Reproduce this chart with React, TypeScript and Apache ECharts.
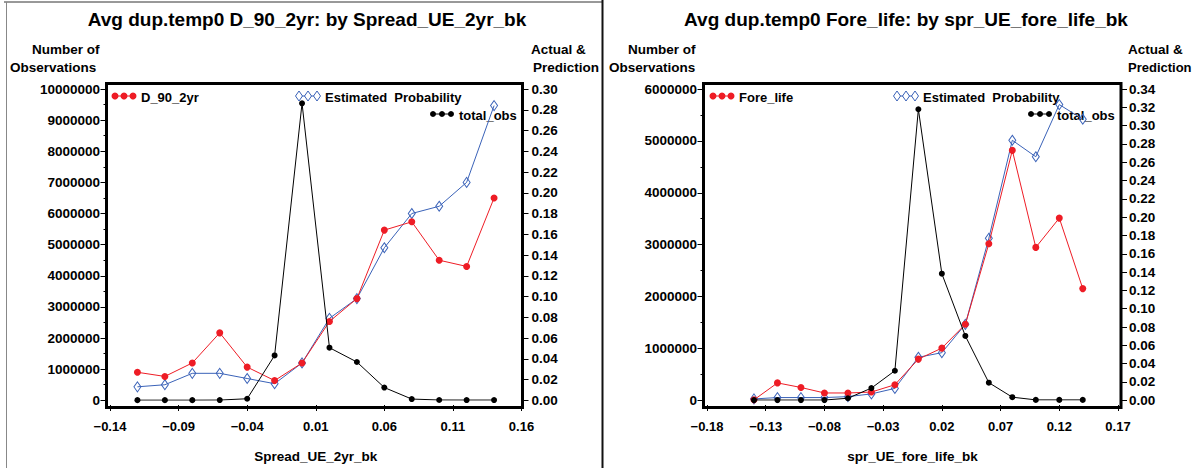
import React, { useEffect, useRef } from "react";
import * as echarts from "echarts";

const FONT = "'Liberation Sans', Arial, Helvetica, sans-serif";
const RED = "#ee1c25";
const BLUE = "#3a62b8";
const BLACK = "#000000";

// Left panel: D_90_2yr by Spread_UE_2yr_bk
const spreadBins = [-0.12, -0.1, -0.08, -0.06, -0.04, -0.02, 0.0, 0.02, 0.04, 0.06, 0.08, 0.1, 0.12, 0.14];
const d90Actual = [0.027, 0.023, 0.036, 0.065, 0.032, 0.019, 0.036, 0.076, 0.098, 0.164, 0.172, 0.135, 0.129, 0.195];
const d90Estimated = [0.013, 0.015, 0.026, 0.026, 0.021, 0.016, 0.036, 0.079, 0.098, 0.147, 0.18, 0.187, 0.21, 0.284];
const d90Obs = [5000, 5000, 5000, 8000, 50000, 1440000, 9540000, 1690000, 1230000, 410000, 40000, 10000, 8000, 8000];
const spreadTicks = [-0.14, -0.09, -0.04, 0.01, 0.06, 0.11, 0.16];

// Right panel: Fore_life by spr_UE_fore_life_bk
const foreBins = [-0.14, -0.12, -0.1, -0.08, -0.06, -0.04, -0.02, 0.0, 0.02, 0.04, 0.06, 0.08, 0.1, 0.12, 0.14];
const foreActual = [0.0005, 0.019, 0.014, 0.008, 0.008, 0.009, 0.017, 0.045, 0.057, 0.083, 0.171, 0.273, 0.167, 0.199, 0.122];
const foreEstimated = [0.0015, 0.003, 0.003, 0.003, 0.004, 0.007, 0.013, 0.047, 0.052, 0.083, 0.177, 0.284, 0.266, 0.323, 0.307];
const foreObs = [5000, 5000, 5000, 5000, 40000, 235000, 570000, 5610000, 2440000, 1240000, 340000, 60000, 8000, 8000, 8000];
const foreTicks = [-0.18, -0.13, -0.08, -0.03, 0.02, 0.07, 0.12, 0.17];

const fmtX = (v: number) => {
  const s = Math.abs(v).toFixed(2);
  return v < -1e-9 ? "\u2212" + s : s;
};

const labelStyle = { fontFamily: FONT, fontWeight: "bold" as const, color: "#000", fontSize: 13.5 };

function pairs(xs: number[], ys: number[]) {
  return xs.map((x, i) => [x, ys[i]]);
}

function series(name: string, xs: number[], ys: number[], kind: "red" | "blue" | "black", idx: number, yIdx: number) {
  const color = kind === "red" ? RED : kind === "blue" ? BLUE : BLACK;
  return {
    type: "line",
    name,
    xAxisIndex: idx,
    yAxisIndex: yIdx,
    data: pairs(xs, ys),
    symbol: kind === "blue" ? "diamond" : "circle",
    symbolSize: kind === "blue" ? [7, 10] : kind === "red" ? 7 : 6,
    showAllSymbol: true,
    lineStyle: { color, width: 1 },
    itemStyle:
      kind === "blue"
        ? { color: "rgba(255,255,255,0)", borderColor: BLUE, borderWidth: 1 }
        : { color, borderWidth: 0 },
    emphasis: { disabled: true },
    z: kind === "blue" ? 2 : kind === "red" ? 3 : 4,
  };
}

function xAxis(gridIndex: number, min: number, max: number, ticks: number[], title: string) {
  return {
    gridIndex,
    type: "value",
    min,
    max,
    offset: 4.7,
    axisLine: { show: false, onZero: false },
    splitLine: { show: false },
    axisTick: { show: true, length: 6, customValues: ticks, lineStyle: { color: "#000", width: 1 } },
    axisLabel: { ...labelStyle, fontSize: 13, customValues: ticks, formatter: fmtX, margin: 15 },
    name: title,
    nameLocation: "middle",
    nameGap: 44,
    nameTextStyle: { ...labelStyle, fontSize: 13.5 },
  };
}

function countAxis(gridIndex: number, max: number, offset: number) {
  return {
    gridIndex,
    type: "value",
    position: "left",
    min: 0,
    max,
    interval: 1000000,
    offset,
    axisLine: { show: false, onZero: false },
    splitLine: { show: false },
    axisTick: { show: true, length: 6, lineStyle: { color: "#000", width: 1 } },
    minorTick: { show: true, splitNumber: 2, length: 3, lineStyle: { color: "#000", width: 1 } },
    axisLabel: { ...labelStyle, margin: 6.5, formatter: (v: number) => String(Math.round(v)) },
  };
}

function rateAxis(gridIndex: number, max: number, offset: number, margin: number) {
  return {
    gridIndex,
    type: "value",
    position: "right",
    min: 0,
    max,
    interval: 0.02,
    offset,
    axisLine: { show: false, onZero: false },
    splitLine: { show: false },
    axisTick: { show: true, length: 6, lineStyle: { color: "#000", width: 1 } },
    axisLabel: { ...labelStyle, margin, formatter: (v: number) => v.toFixed(2) },
  };
}

function text(x: number, y: number, s: string, size: number, align: "left" | "center" | "right" = "left") {
  return {
    type: "text",
    x,
    y,
    style: {
      text: s,
      fill: "#000",
      font: `bold ${size}px ${FONT}`,
      textAlign: align,
      textVerticalAlign: "middle",
    },
    z: 10,
  };
}

function legendKey(x: number, y: number, kind: "red" | "blue" | "black", label: string) {
  const color = kind === "red" ? RED : kind === "blue" ? BLUE : BLACK;
  const items: any[] = [
    { type: "line", shape: { x1: x, y1: y, x2: x + 22, y2: y }, style: { stroke: color, lineWidth: 1 } },
  ];
  [x + 2, x + 11, x + 20].forEach((cx) => {
    if (kind === "blue") {
      items.push({
        type: "polygon",
        shape: { points: [[cx, y - 5], [cx + 3.5, y], [cx, y + 5], [cx - 3.5, y]] },
        style: { fill: "#fff", stroke: BLUE, lineWidth: 1 },
      });
    } else {
      items.push({ type: "circle", shape: { cx, cy: y, r: kind === "red" ? 3.5 : 3 }, style: { fill: color } });
    }
  });
  items.push({
    type: "text",
    x: x + 28,
    y: y + 1,
    style: { text: label, fill: "#000", font: `bold 13px ${FONT}`, textVerticalAlign: "middle" },
  });
  return { type: "group", children: items, z: 10 };
}

function frame(x1: number, y1: number, x2: number, y2: number) {
  return {
    type: "rect",
    shape: { x: x1, y: y1, width: x2 - x1, height: y2 - y1 },
    style: { fill: "none", stroke: "#000", lineWidth: 3 },
    z: 8,
  };
}

export default function App() {
  const ref = useRef<HTMLDivElement>(null);

  useEffect(() => {
    if (!ref.current) return;
    const chart = echarts.init(ref.current, undefined, { renderer: "svg" });
    chart.setOption({
      animation: false,
      backgroundColor: "#fff",
      grid: [
        { left: 110, top: 89, width: 411.5, height: 314 },
        { left: 707, top: 89, width: 411, height: 314 },
      ],
      xAxis: [
        xAxis(0, -0.14, 0.16, spreadTicks, "Spread_UE_2yr_bk"),
        xAxis(1, -0.18, 0.17, foreTicks, "spr_UE_fore_life_bk"),
      ],
      yAxis: [
        countAxis(0, 10000000, 3.5),
        rateAxis(0, 0.3, 1, 9),
        countAxis(1, 6000000, 3.5),
        rateAxis(1, 0.34, 3, 8),
      ],
      series: [
        series("Estimated Probability", spreadBins, d90Estimated, "blue", 0, 1),
        series("D_90_2yr", spreadBins, d90Actual, "red", 0, 1),
        series("total_obs", spreadBins, d90Obs, "black", 0, 0),
        series("Estimated Probability", foreBins, foreEstimated, "blue", 1, 3),
        series("Fore_life", foreBins, foreActual, "red", 1, 3),
        series("total_obs", foreBins, foreObs, "black", 1, 2),
      ],
      graphic: [
        // panel borders
        { type: "line", shape: { x1: 4, y1: 2, x2: 602, y2: 2 }, style: { stroke: "#333", lineWidth: 1 } },
        { type: "line", shape: { x1: 6.5, y1: 2, x2: 6.5, y2: 468 }, style: { stroke: "#888", lineWidth: 1 } },
        { type: "line", shape: { x1: 602.5, y1: 0, x2: 602.5, y2: 468 }, style: { stroke: "#111", lineWidth: 2 } },
        // plot frames
        frame(106.5, 83.5, 522.5, 407.5),
        frame(703.5, 83.5, 1121, 407.5),
        // titles
        text(307, 19, "Avg dup.temp0 D_90_2yr: by Spread_UE_2yr_bk", 19, "center"),
        text(906, 19, "Avg dup.temp0 Fore_life: by spr_UE_fore_life_bk", 19, "center"),
        // axis headers
        text(32, 49, "Number of", 13.5),
        text(10, 67, "Observations", 13.5),
        text(531, 49, "Actual &", 13.5),
        text(533, 67, "Prediction", 13.5),
        text(628, 49, "Number of", 13.5),
        text(609, 67, "Observations", 13.5),
        text(1128, 49, "Actual &", 13.5),
        text(1128, 67, "Prediction", 13),
        // legends
        legendKey(113, 96, "red", "D_90_2yr"),
        legendKey(297, 96, "blue", "Estimated  Probability"),
        legendKey(431, 114, "black", "total_obs"),
        legendKey(711, 96, "red", "Fore_life"),
        legendKey(895, 96, "blue", "Estimated  Probability"),
        legendKey(1029, 114, "black", "total_obs"),
      ],
    });
    return () => chart.dispose();
  }, []);

  return (
    <div
      ref={ref}
      style={{ position: "absolute", left: 0, top: 0, width: 1194, height: 468, background: "#fff" }}
    />
  );
}
